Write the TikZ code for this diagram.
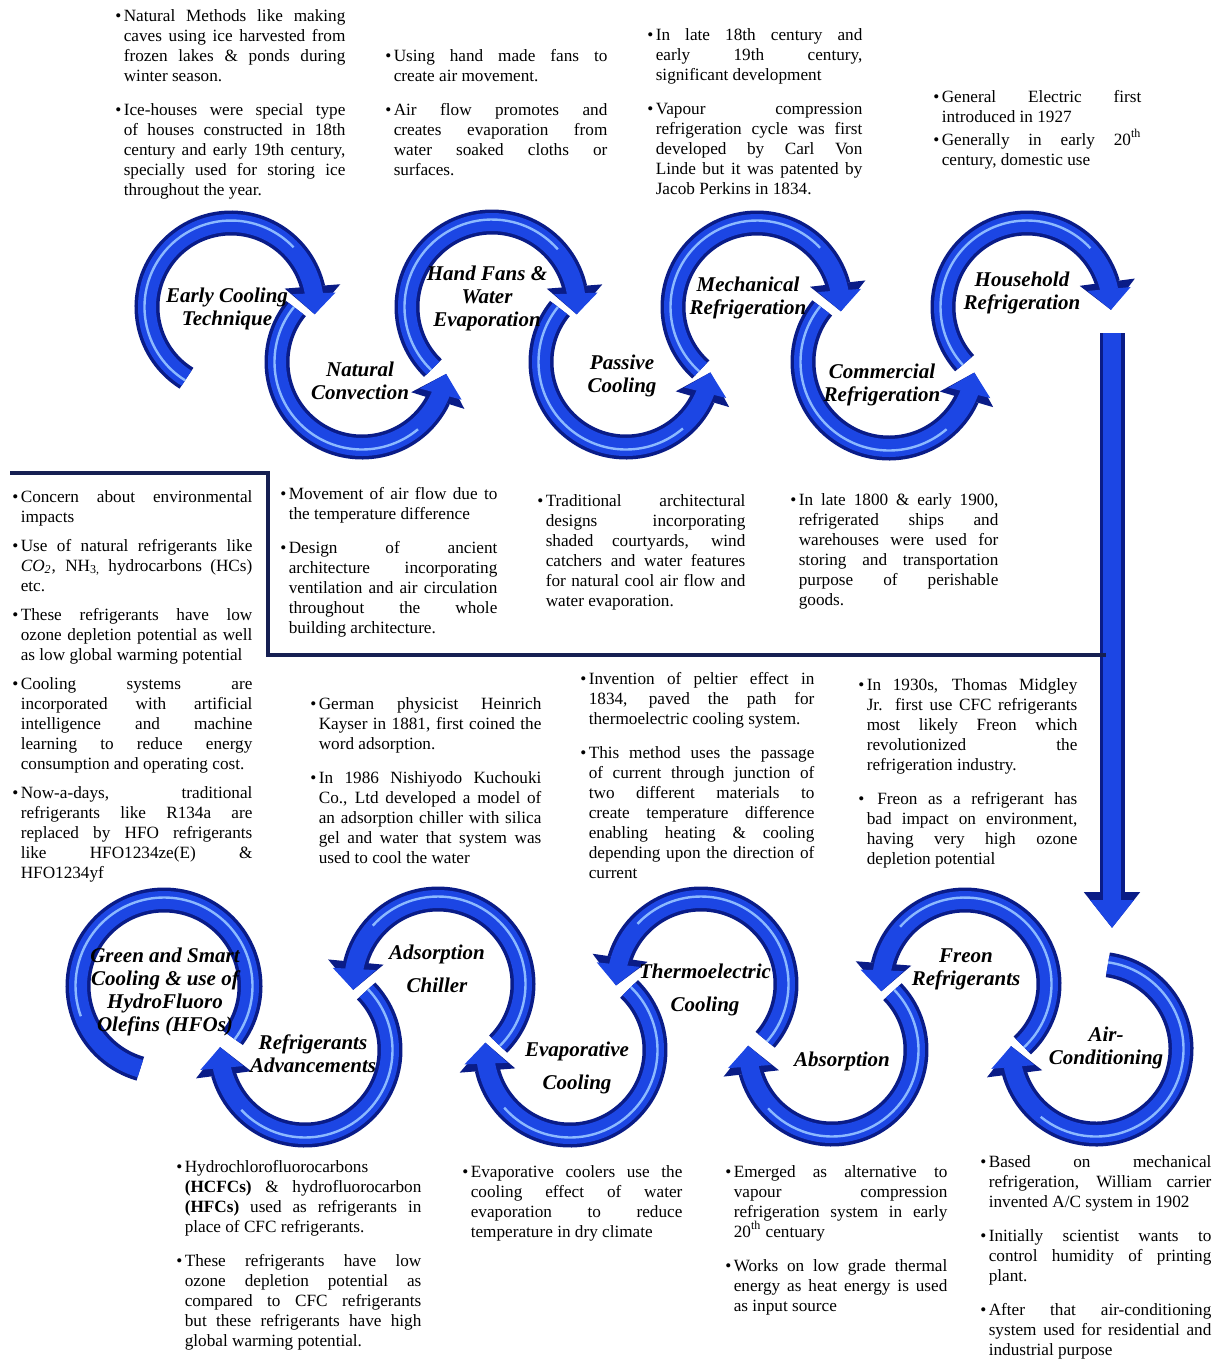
\documentclass[tikz,border=0pt]{standalone}
\usepackage{fontspec}
\setmainfont{Liberation Serif}
\usetikzlibrary{arrows.meta , bending , calc}

\definecolor{ringdark}{RGB}{10,28,135}
\definecolor{ringmain}{RGB}{28,70,228}
\definecolor{ringlight}{RGB}{140,185,255}
\definecolor{navy}{RGB}{22,32,82}

\newcommand{\noteset}{\setlength{\parskip}{7pt}\tolerance=10000 \hbadness=10000 \hyphenpenalty=10000 \exhyphenpenalty=10000 }
\newcommand{\fitem}{\noindent\hangindent = 4.2pt\hangafter = 1\makebox[4.2pt][l]{\textbullet}}
\newcommand{\bitem}{\par\fitem}
\newcommand{\ringarrow}[4]{% centre , radius , start , end
  \pgfmathsetmacro{\hiend}{#3+0.8*(#4-#3)}
  \pgfmathsetmacro{\hirad}{#2+2.5}
  \draw[ringout , tipout] ($(#1)+(#3:#2)$) arc[start angle = #3 , end angle = #4 , radius = #2];
  \draw[ringin , tipin] ($(#1)+(#3:#2)$) arc[start angle = #3 , end angle = #4 , radius = #2];
  \draw[ringhi] ($(#1)+(#3:\hirad)$) arc[start angle = #3 , end angle = \hiend , radius = \hirad];
}

\tikzset{
  ringout/.style = {line width = 12.5pt , draw = ringdark},
  ringin/.style = {line width = 9pt , draw = ringmain},
  ringhi/.style = {line width = 1.2pt , draw = ringlight},
  tipout/.style = {-{Triangle[width = 27pt , length = 14pt]}},
  tipin/.style = {-{Triangle[width = 21pt , length = 10.5pt]}},
  stage/.style = {align = center , inner sep = 0pt , font = \fontsize{10.5}{11.5}\selectfont\bfseries\itshape},
  note/.style = {anchor = north west , inner sep = 0pt , align = justify ,
    font = \fontsize{8.6}{10}\selectfont , execute at begin node = \noteset}
}

\begin{document}
\begin{tikzpicture}[x = 0.5pt , y = 0.5pt]
    \useasboundingbox (0,0) rectangle (1221,-1361);

    % arc centres
    \coordinate (c1) at (231,-307);
    \coordinate (c2) at (362,-362);
    \coordinate (c3) at (492,-307);
    \coordinate (c4) at (626,-362);
    \coordinate (c5) at (757,-307);
    \coordinate (c6) at (889,-362);
    \coordinate (c7) at (1027,-307);
    \coordinate (c8) at (1096,-1049);
    \coordinate (c9) at (965,-984);
    \coordinate (c10) at (832,-1050);
    \coordinate (c11) at (701,-984);
    \coordinate (c12) at (570,-1050);
    \coordinate (c13) at (438,-984);
    \coordinate (c14) at (305,-1050);
    \coordinate (c15) at (164,-986);

    % top row
    \ringarrow{c1}{84}{238}{-5}
    \ringarrow{c2}{85}{141}{352}
    \ringarrow{c3}{85}{226}{-5}
    \ringarrow{c4}{85}{141}{353}
    \ringarrow{c5}{84}{228}{-3}
    \ringarrow{c6}{86}{141}{353}
    \ringarrow{c7}{84}{222}{-2}

    % down arrow
    \coordinate (downtop) at (1112,-333);
    \coordinate (downtip) at (1112,-928);
    \draw[ringout , -{Triangle[width = 27pt , length = 18pt]}] (downtop) -- (downtip);
    \draw[ringin , -{Triangle[width = 21pt , length = 14pt]}] (downtop) -- (downtip);

    % bottom row
    \ringarrow{c8}{85}{82}{-182}
    \ringarrow{c9}{84}{-47}{185}
    \ringarrow{c10}{84}{44}{-183}
    \ringarrow{c11}{85}{-41}{181}
    \ringarrow{c12}{85}{46}{-185}
    \ringarrow{c13}{85}{-45}{184}
    \ringarrow{c14}{85}{44}{-182}
    \draw[ringout] ($(c15)+(-37:86)$) arc[start angle = -37 , end angle = 254 , radius = 86];
    \draw[ringin] ($(c15)+(-37:86)$) arc[start angle = -37 , end angle = 254 , radius = 86];
    \draw[ringhi] ($(c15)+(-37:88.5)$) arc[start angle = -37 , end angle = 200 , radius = 88.5];

    % stage labels
    \node[stage] (early) at (227,-309) {Early Cooling\\Technique};
    \node[stage] (natconv) at (360,-381) {Natural\\Convection};
    \node[stage] (handfans) at (487,-298) {Hand Fans \&\\Water\\Evaporation};
    \node[stage] (passive) at (622,-376) {Passive\\Cooling};
    \node[stage] (mech) at (748,-298) {Mechanical\\Refrigeration};
    \node[stage] (comm) at (882,-385) {Commercial\\Refrigeration};
    \node[stage] (house) at (1022,-293) {Household\\Refrigeration};
    \node[stage] (aircon) at (1106,-1048) {Air-\\Conditioning};
    \node[stage] (freon) at (966,-969) {Freon\\Refrigerants};
    \node[stage] (absorp) at (842,-1061) {Absorption};
    \node[stage] (thermo) at (705,-990) {Thermoelectric\\[5pt]Cooling};
    \node[stage] (evap) at (577,-1068) {Evaporative\\[5pt]Cooling};
    \node[stage] (adsorp) at (437,-969) {Adsorption\\[5pt]Chiller};
    \node[stage] (refadv) at (313,-1054) {Refrigerants\\Advancements};
    \node[stage] (green) at (165,-992) {Green and Smart\\Cooling \& use of\\HydroFluoro\\Olefins (HFOs)};

    % separator
    \draw[navy , line width = 1.6pt] (10,-473) -- (268,-473) -- (268,-655) -- (1106,-655);

    % notes, top
    \node[note , text width = 115pt] (noteearly) at (115,-9) {%
    \fitem Natural Methods like making\linebreak caves using ice harvested from\linebreak frozen lakes \& ponds during\linebreak winter season.
    \bitem Ice-houses were special type\linebreak of houses constructed in 18th\linebreak century and early 19th century,\linebreak specially used for storing ice\linebreak throughout the year.\par};
    \node[note , text width = 111pt] (notefans) at (385,-49) {%
    \fitem Using hand made fans to\linebreak create air movement.
    \bitem Air flow promotes and\linebreak creates evaporation from\linebreak water soaked cloths or\linebreak surfaces.\par};
    \node[note , text width = 107.5pt] (notemech) at (647,-28) {%
    \fitem In late 18th century and\linebreak early 19th century,\linebreak significant development
    \bitem Vapour compression\linebreak refrigeration cycle was first\linebreak developed by Carl Von\linebreak Linde but it was patented by\linebreak Jacob Perkins in 1834.\par};
    \node[note , text width = 104pt] (notehouse) at (933,-90) {\setlength{\parskip}{1.5pt}%
    \fitem General Electric first\linebreak introduced in 1927
    \bitem Generally in early 20\textsuperscript{th}\linebreak century, domestic use\par};

    % notes, middle
    \node[note , text width = 120pt] (notegreen) at (12,-490) {\setlength{\parskip}{4.5pt}%
    \fitem Concern about environmental\linebreak impacts
    \bitem Use of natural refrigerants like\linebreak \textit{CO\textsubscript{2}}, NH\textsubscript{3,} hydrocarbons (HCs)\linebreak etc.
    \bitem These refrigerants have low\linebreak ozone depletion potential as well\linebreak as low global warming potential
    \bitem Cooling systems are\linebreak incorporated with artificial\linebreak intelligence and machine\linebreak learning to reduce energy\linebreak consumption and operating cost.
    \bitem Now-a-days, traditional\linebreak refrigerants like R134a are\linebreak replaced by HFO refrigerants\linebreak like HFO1234ze(E) \&\linebreak HFO1234yf\par};
    \node[note , text width = 108.5pt] (noteconv) at (280,-487) {%
    \fitem Movement of air flow due to\linebreak the temperature difference
    \bitem Design of ancient\linebreak architecture incorporating\linebreak ventilation and air circulation\linebreak throughout the whole\linebreak building architecture.\par};
    \node[note , text width = 104pt] (notepassive) at (537,-494) {%
    \fitem Traditional architectural\linebreak designs incorporating\linebreak shaded courtyards, wind\linebreak catchers and water features\linebreak for natural cool air flow and\linebreak water evaporation.\par};
    \node[note , text width = 104pt] (notecomm) at (790,-493) {%
    \fitem In late 1800 \& early 1900,\linebreak refrigerated ships and\linebreak warehouses were used for\linebreak storing and transportation\linebreak purpose of perishable\linebreak goods.\par};
    \node[note , text width = 115.5pt] (noteadsorp) at (310,-697) {%
    \fitem German physicist Heinrich\linebreak Kayser in 1881, first coined the\linebreak word adsorption.
    \bitem In 1986 Nishiyodo Kuchouki\linebreak Co., Ltd developed a model of\linebreak an adsorption chiller with silica\linebreak gel and water that system was\linebreak used to cool the water\par};
    \node[note , text width = 117pt] (notethermo) at (580,-672) {%
    \fitem Invention of peltier effect in\linebreak 1834, paved the path for\linebreak thermoelectric cooling system.
    \bitem This method uses the passage\linebreak of current through junction of\linebreak two different materials to\linebreak create temperature difference\linebreak enabling heating \& cooling\linebreak depending upon the direction of\linebreak current\par};
    \node[note , text width = 109.5pt] (notefreon) at (858,-678) {%
    \fitem In 1930s, Thomas Midgley\linebreak Jr. first use CFC refrigerants\linebreak most likely Freon which\linebreak revolutionized the\linebreak refrigeration industry.
    \bitem\ Freon as a refrigerant has\linebreak bad impact on environment,\linebreak having very high ozone\linebreak depletion potential\par};

    % notes, bottom
    \node[note , text width = 122.5pt] (noteadv) at (176,-1160) {%
    \fitem Hydrochlorofluorocarbons\newline \textbf{(HCFCs)} \& hydrofluorocarbon\linebreak \textbf{(HFCs)} used as refrigerants in\linebreak place of CFC refrigerants.
    \bitem These refrigerants have low\linebreak ozone depletion potential as\linebreak compared to CFC refrigerants\linebreak but these refrigerants have high\linebreak global warming potential.\par};
    \node[note , text width = 110pt] (noteevap) at (462,-1165) {%
    \fitem Evaporative coolers use the\linebreak cooling effect of water\linebreak evaporation to reduce\linebreak temperature in dry climate\par};
    \node[note , text width = 111pt] (noteabsorp) at (725,-1165) {%
    \fitem Emerged as alternative to\linebreak vapour compression\linebreak refrigeration system in early\linebreak 20\textsuperscript{th} centuary
    \bitem Works on low grade thermal\linebreak energy as heat energy is used\linebreak as input source\par};
    \node[note , text width = 115.5pt] (noteaircon) at (980,-1155) {%
    \fitem Based on mechanical\linebreak refrigeration, William carrier\linebreak invented A/C system in 1902
    \bitem Initially scientist wants to\linebreak control humidity of printing\linebreak plant.
    \bitem After that air-conditioning\linebreak system used for residential and\linebreak industrial purpose\par};
\end{tikzpicture}
\end{document}
